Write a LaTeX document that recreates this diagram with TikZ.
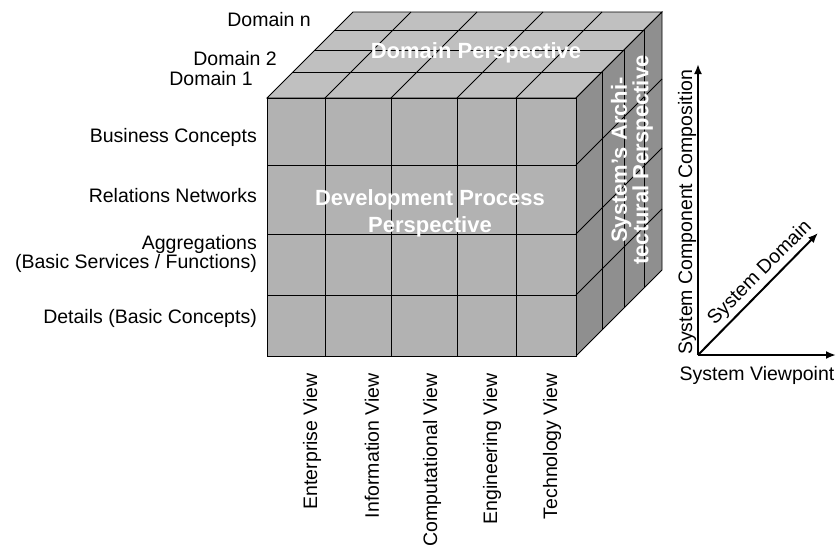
\documentclass[tikz,border=0pt]{standalone}
\usepackage{fontspec}
\setmainfont{Liberation Sans}
\usetikzlibrary{arrows.meta,positioning}

\definecolor{frontgray}{HTML}{B2B2B2}
\definecolor{topgray}{HTML}{C0C0C0}
\definecolor{sidegray}{HTML}{8F8F8F}

\begin{document}
\begin{tikzpicture}[
		x=1pt, y=-1pt,
		every node/.style={font=\fontsize{19.5}{19}\selectfont, inner sep=0pt},
		face/.style={draw=black, line width=0.8},
		grid/.style={line width=0.8},
		level/.style={anchor=east, align=right},
		view/.style={anchor=east, rotate=90},
		perspective/.style={text=white, font=\fontsize{22}{27}\selectfont\bfseries, align=center},
		axis/.style={line width=2, -{Latex[length=10,width=8]}},
	]
		\useasboundingbox (0,0) rectangle (838,550);

		\draw[face, fill=topgray] (267,98) -- (353,12) -- (662,12) -- (576,98) -- cycle;
		\draw[face, fill=sidegray] (576,98) -- (662,12) -- (662,270) -- (576,356) -- cycle;
		\draw[face, fill=frontgray] (267,98) rectangle (576,356);

		\foreach \d in {26,48,68} {
			\draw[grid] (267+\d,98-\d) -- (576+\d,98-\d);
			\draw[grid] (576+\d,98-\d) -- (576+\d,356-\d);
		}
		\foreach \x in {325,391,457,516} {
			\draw[grid] (\x,98) -- (\x,356);
			\draw[grid] (\x,98) -- (\x+86,12);
		}
		\foreach \y in {165,234,295} {
			\draw[grid] (267,\y) -- (576,\y);
			\draw[grid] (576,\y) -- (662,\y-86);
		}

		\node[perspective] (domper) at (476,53) {Domain Perspective};
		\node[perspective] (devper) at (430,213) {Development Process\\Perspective};
		\node[perspective, rotate=90, font=\fontsize{22}{20}\selectfont\bfseries] (archper) at (632,160) {System’s Archi-\\tectural Perspective};

		\node[level] (domn) at (311,20) {Domain n};
		\node[level] (dom2) at (277,59) {Domain 2};
		\node[level] (dom1) at (253,79) {Domain 1};
		\node[level] (business) at (257,137) {Business Concepts};
		\node[level] (relations) at (257,196) {Relations Networks};
		\node[level] (aggregations) at (257,254) {Aggregations\\(Basic Services / Functions)};
		\node[level] (details) at (257,318) {Details (Basic Concepts)};

		\node[view] (enterprise) at (312,373) {Enterprise View};
		\node[view] (information) at (372,373) {Information View};
		\node[view] (computational) at (432,373) {Computational View};
		\node[view] (engineering) at (492,373) {Engineering View};
		\node[view] (technology) at (552,373) {Technology View};

		\coordinate (origin) at (698,355);
		\coordinate (comptip) at (698,64);
		\coordinate (viewtip) at (836,355);
		\coordinate (domtip) at (818,233);
		\draw[axis] (origin) -- (comptip);
		\draw[axis] (origin) -- (viewtip);
		\draw[axis] (origin) -- (domtip);

		\node[anchor=west, rotate=90] (composition) at (687,355) {System Component Composition};
		\node (viewpoint) at (757,375) {System Viewpoint};
		\node[rotate=45] (sysdomain) at (760,273) {System Domain};
	\end{tikzpicture}
\end{document}
